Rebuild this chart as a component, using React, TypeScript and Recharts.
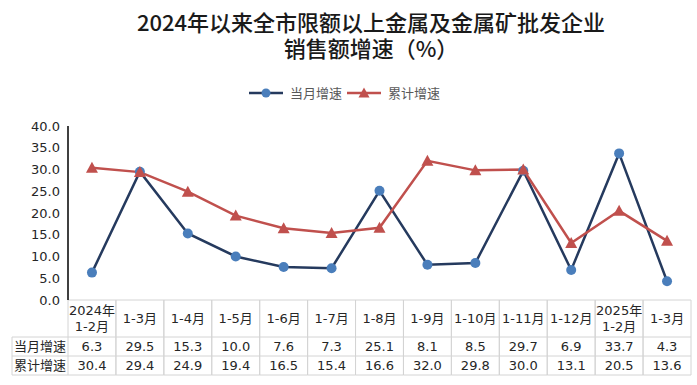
import React from 'react';
import { LineChart, Line, XAxis, YAxis } from 'recharts';

const categories = ['2024年\n1-2月', '1-3月', '1-4月', '1-5月', '1-6月', '1-7月', '1-8月', '1-9月', '1-10月', '1-11月', '1-12月', '2025年\n1-2月', '1-3月'];
const monthlyGrowth = [6.3, 29.5, 15.3, 10.0, 7.6, 7.3, 25.1, 8.1, 8.5, 29.7, 6.9, 33.7, 4.3];
const cumulativeGrowth = [30.4, 29.4, 24.9, 19.4, 16.5, 15.4, 16.6, 32.0, 29.8, 30.0, 13.1, 20.5, 13.6];
const yTicks = [0, 5, 10, 15, 20, 25, 30, 35, 40];
const seriesNames = ['当月增速', '累计增速'];
const titleLines = ['2024年以来全市限额以上金属及金属矿批发企业', '销售额增速（%）'];

const W = 697;
const H = 385;
const LEFT = 68;
const RIGHT = 6;
const BAND = (W - LEFT - RIGHT) / categories.length;
const FONT = '"DejaVu Sans", "Noto Sans CJK SC", sans-serif';
const NAVY = '#253a5e';
const BLUE = '#4a7ebb';
const RED = '#c0504d';
const BORDER = '#d4d4d4';
const TEXT = '#262626';

const data = categories.map((c, i) => ({
  idx: i,
  label: c,
  monthly: monthlyGrowth[i],
  cumulative: cumulativeGrowth[i],
}));

// row layout of the data table under the plot
const HEAD_H = 37;
const ROW_H = 19;

const TableTick = (props: any) => {
  const { x, y, payload } = props;
  const i = payload.index ?? payload.value;
  const lines = String(categories[i]).split('\n');
  const x0 = x - BAND / 2;
  const x1 = x + BAND / 2;
  const yHead = y + HEAD_H;
  const yEnd = yHead + ROW_H * 2;
  return (
    <g fontFamily={FONT} fontSize={13} fill={TEXT}>
      <line x1={x0} y1={y} x2={x0} y2={yEnd} stroke={BORDER} />
      <line x1={x1} y1={y} x2={x1} y2={yEnd} stroke={BORDER} />
      <line x1={x0} y1={yHead} x2={x1} y2={yHead} stroke={BORDER} />
      <line x1={x0} y1={yHead + ROW_H} x2={x1} y2={yHead + ROW_H} stroke={BORDER} />
      <line x1={x0} y1={yEnd} x2={x1} y2={yEnd} stroke={BORDER} />
      {lines.map((t, k) => (
        <text key={k} x={x} y={y + HEAD_H / 2 + (k - (lines.length - 1) / 2) * 16} textAnchor="middle" dominantBaseline="central">
          {t}
        </text>
      ))}
      <text x={x} y={yHead + ROW_H / 2} textAnchor="middle" dominantBaseline="central">
        {monthlyGrowth[i].toFixed(1)}
      </text>
      <text x={x} y={yHead + ROW_H * 1.5} textAnchor="middle" dominantBaseline="central">
        {cumulativeGrowth[i].toFixed(1)}
      </text>
      {i === 0 && (
        <g>
          <line x1={12} y1={yHead} x2={x0} y2={yHead} stroke={BORDER} />
          <line x1={12} y1={yHead + ROW_H} x2={x0} y2={yHead + ROW_H} stroke={BORDER} />
          <line x1={12} y1={yEnd} x2={x0} y2={yEnd} stroke={BORDER} />
          <line x1={12} y1={yHead} x2={12} y2={yEnd} stroke={BORDER} />
          <text x={(12 + x0) / 2} y={yHead + ROW_H / 2} textAnchor="middle" dominantBaseline="central">
            {seriesNames[0]}
          </text>
          <text x={(12 + x0) / 2} y={yHead + ROW_H * 1.5} textAnchor="middle" dominantBaseline="central">
            {seriesNames[1]}
          </text>
        </g>
      )}
    </g>
  );
};

const Triangle = (props: any) => {
  const { cx, cy } = props;
  if (cx == null || cy == null) return null;
  return <polygon points={`${cx},${cy - 6} ${cx - 6},${cy + 5} ${cx + 6},${cy + 5}`} fill={RED} />;
};

const LegendItem = ({ color, marker, label }: { color: string; marker: string; label: string }) => (
  <span style={{ display: 'inline-flex', alignItems: 'center', marginRight: 4 }}>
    <svg width={36} height={12}>
      <line x1={1} y1={6} x2={35} y2={6} stroke={color === BLUE ? NAVY : RED} strokeWidth={2.5} />
      {marker === 'circle' ? (
        <circle cx={18} cy={6} r={4.5} fill={BLUE} />
      ) : (
        <polygon points="18,0.5 12.5,10.5 23.5,10.5" fill={RED} />
      )}
    </svg>
    <span style={{ marginLeft: 6 }}>{label}</span>
  </span>
);

export default function App() {
  return (
    <div style={{ position: 'absolute', left: 0, top: 0, width: W, height: H, background: '#fff' }}>
      {titleLines.map((t, k) => (
        <div
          key={k}
          style={{
            position: 'absolute',
            left: 0,
            top: 8 + k * 26,
            width: 742,
            textAlign: 'center',
            fontFamily: '"Noto Sans CJK SC", sans-serif',
            fontSize: 22,
            fontWeight: 500,
            lineHeight: '26px',
            color: '#1a1a1a',
          }}
        >
          {t}
        </div>
      ))}
      <div
        style={{
          position: 'absolute',
          left: 248,
          top: 83,
          fontFamily: '"Noto Sans CJK SC", sans-serif',
          fontSize: 13,
          color: '#595959',
          display: 'flex',
          alignItems: 'center',
          whiteSpace: 'nowrap',
        }}
      >
        <LegendItem color={BLUE} marker="circle" label={seriesNames[0]} />
        <LegendItem color={RED} marker="triangle" label={seriesNames[1]} />
      </div>
      <LineChart
        width={W}
        height={H}
        data={data}
        margin={{ top: 126, right: RIGHT, bottom: 0, left: 0 }}
        style={{ position: 'absolute', left: 0, top: 0 }}
      >
        <XAxis
          dataKey="idx"
          scale="band"
          height={85}
          axisLine={{ stroke: BORDER }}
          tickLine={false}
          tickSize={0}
          tickMargin={0}
          interval={0}
          tick={<TableTick />}
        />
        <YAxis
          width={LEFT}
          domain={[0, 40]}
          ticks={yTicks}
          interval={0}
          axisLine={{ stroke: '#000', strokeWidth: 1.5 }}
          tickLine={false}
          tick={{ fontSize: 13, fill: TEXT, fontFamily: FONT }}
          tickFormatter={(v: number) => v.toFixed(1)}
        />
        <Line
          dataKey="monthly"
          stroke={NAVY}
          strokeWidth={2.5}
          dot={{ r: 5, fill: BLUE, stroke: BLUE, strokeWidth: 0 }}
          isAnimationActive={false}
        />
        <Line
          dataKey="cumulative"
          stroke={RED}
          strokeWidth={2.5}
          dot={<Triangle />}
          isAnimationActive={false}
        />
      </LineChart>
    </div>
  );
}
